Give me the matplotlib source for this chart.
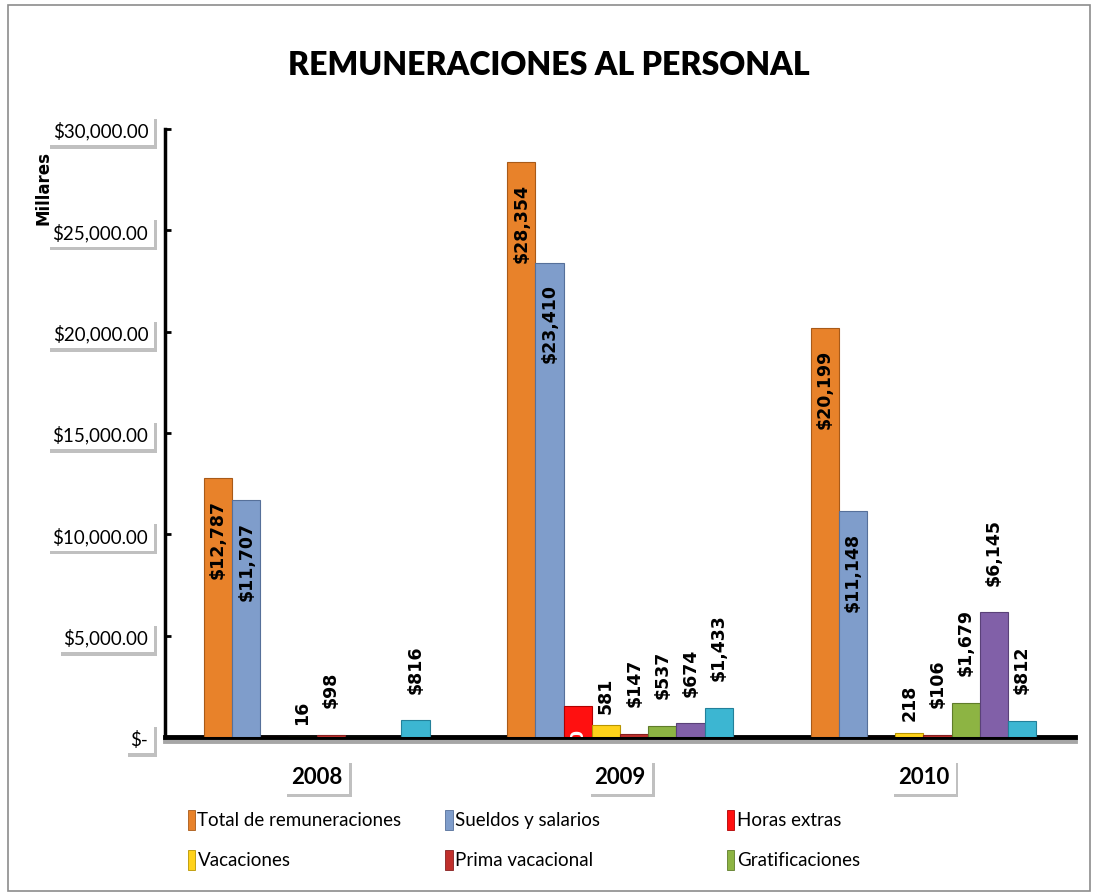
import numpy as np
import matplotlib
matplotlib.use("Agg")
import matplotlib.pyplot as plt
import matplotlib.patheffects as pe
from matplotlib.patches import Rectangle

years = ["2008", "2009", "2010"]
series = ["Total de remuneraciones", "Sueldos y salarios", "Horas extras", "Vacaciones",
          "Prima vacacional", "Gratificaciones", "Otras prestaciones", "Otros"]
colors = ["#E8822A", "#7F9DCB", "#FF1010", "#FFD21A", "#C0302C", "#8DB443", "#8160A8", "#3CB6D2"]
edges = ["#A85A18", "#56709A", "#B00000", "#B89500", "#862020", "#5F7C2A", "#5A4178", "#23809A"]

values = {
    "Total de remuneraciones": [12787, 28354, 20199],
    "Sueldos y salarios": [11707, 23410, 11148],
    "Horas extras": [0, 1520, 0],
    "Vacaciones": [16, 581, 218],
    "Prima vacacional": [98, 147, 106],
    "Gratificaciones": [0, 537, 1679],
    "Otras prestaciones": [0, 674, 6145],
    "Otros": [816, 1433, 812],
}
labels = {
    "Total de remuneraciones": ["$12,787", "$28,354", "$20,199"],
    "Sueldos y salarios": ["$11,707", "$23,410", "$11,148"],
    "Horas extras": ["", "$1,520", ""],
    "Vacaciones": ["16", "581", "218"],
    "Prima vacacional": ["$98", "$147", "$106"],
    "Gratificaciones": ["", "$537", "$1,679"],
    "Otras prestaciones": ["", "$674", "$6,145"],
    "Otros": ["$816", "$1,433", "$812"],
}
yticks = [0, 5000, 10000, 15000, 20000, 25000, 30000]
ytick_labels = ["$-", "$5,000.00", "$10,000.00", "$15,000.00", "$20,000.00", "$25,000.00", "$30,000.00"]

narrow = ["Lato", "DejaVu Sans"]
shadow = [pe.SimplePatchShadow(offset=(2, -2.5), alpha=0.35), pe.Normal()]

fig = plt.figure(figsize=(10.97, 8.95), dpi=100)
fig.patches.append(Rectangle((0.007, 0.003), 0.987, 0.99, transform=fig.transFigure,
                             fill=False, edgecolor="#8c8c8c", linewidth=1.2))

ax = fig.add_axes([0.1504, 0.1754, 0.8296, 0.6793])
x = np.arange(len(years))
n = len(series)
w = 0.744 / n

for i, name in enumerate(series):
    pos = x + (i - (n - 1) / 2) * w
    bars = ax.bar(pos, values[name], width=w, color=colors[i], edgecolor=edges[i],
                  linewidth=0.8, zorder=3)
    for b, v, lab in zip(bars, values[name], labels[name]):
        if not lab:
            continue
        cx = b.get_x() + b.get_width() / 2
        if i < 2:
            ax.annotate(lab, (cx, v), xytext=(0, -15), textcoords="offset points",
                        rotation=90, ha="center", va="top", fontsize=12.5,
                        fontweight="bold", family="DejaVu Sans", zorder=5)
        elif name == "Horas extras":
            t = ax.annotate(lab, (cx, v), xytext=(0, -15), textcoords="offset points",
                            rotation=90, ha="center", va="top", fontsize=12.5,
                            fontweight="bold", color="white", family="DejaVu Sans", zorder=5)
            t.set_clip_path(b)
        else:
            pad = 20 if lab.startswith("$") else 9
            ax.annotate(lab, (cx, v), xytext=(0, pad), textcoords="offset points",
                        rotation=90, ha="center", va="bottom", fontsize=12.5,
                        fontweight="bold", family="DejaVu Sans", zorder=5)

ax.set_xlim(-0.5, 2.5)
ax.set_ylim(0, 30000)
ax.set_yticks(yticks)
ax.set_yticklabels(ytick_labels, family=narrow, fontsize=13.5)
ax.tick_params(axis="y", length=4, width=2, pad=12, direction="in")
ax.set_xticks(x)
ax.set_xticklabels(years, family=narrow, fontweight="bold", fontsize=16)
ax.tick_params(axis="x", length=0, pad=21)
for lbl in ax.get_yticklabels():
    lbl.set_bbox(dict(boxstyle="square,pad=0.3", facecolor="white", edgecolor="none"))
    lbl.get_bbox_patch().set_path_effects(shadow)
for lbl in ax.get_xticklabels():
    lbl.set_bbox(dict(boxstyle="square,pad=0.3", facecolor="white", edgecolor="none"))
    lbl.get_bbox_patch().set_path_effects(shadow)

for s in ["top", "right"]:
    ax.spines[s].set_visible(False)
ax.spines["left"].set_linewidth(2.5)
ax.spines["bottom"].set_linewidth(3.5)
ax.spines["bottom"].set_path_effects([pe.SimpleLineShadow(offset=(0, -3), alpha=0.35), pe.Normal()])

fig.text(0.5, 0.927, "REMUNERACIONES AL PERSONAL", ha="center", va="center",
         fontsize=23, fontweight="heavy", family=narrow)
fig.text(0.040, 0.79, "Millares", rotation=90, ha="center", va="center",
         fontsize=12, fontweight="bold", family="DejaVu Sans")

# legend, row by row
leg_x = [0.171, 0.406, 0.663]
leg_y = [0.083, 0.038]
for k, name in enumerate(series[:6]):
    lx = leg_x[k % 3]
    ly = leg_y[k // 3]
    fig.patches.append(Rectangle((lx, ly - 0.011), 0.0065, 0.022, transform=fig.transFigure,
                                 facecolor=colors[k], edgecolor=edges[k], linewidth=0.6))
    fig.text(lx + 0.009, ly, name, ha="left", va="center", fontsize=13.5, family=narrow)

fig.savefig("out.png", dpi=100)
